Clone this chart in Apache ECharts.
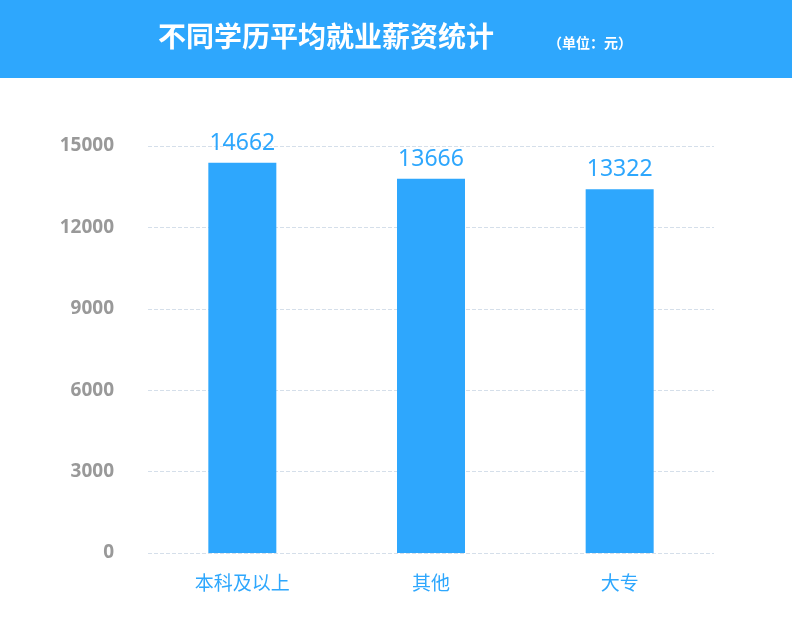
<!DOCTYPE html><html><head><meta charset="utf-8"><script src="https://cdn.jsdelivr.net/npm/echarts@6/dist/echarts.min.js"></script>
<style>body{margin:0}#c{width:792px;height:640px}</style></head><body><div id="c"></div><script>
const categories=['本科及以上','其他','大专'];
const barValues=[14380,13790,13410];
const labelTexts=['14662','13666','13322'];
const yTicks=[0,3000,6000,9000,12000,15000];
const ch=echarts.init(document.getElementById('c'));
ch.setOption({
 graphic:[{type:'rect',shape:{x:0,y:0,width:792,height:78},style:{fill:'#2ea7fd'}},
  {type:'text',left:158,top:22,style:{text:'不同学历平均就业薪资统计',fill:'#fff',font:'bold 28px "Noto Sans CJK SC"'}},
  {type:'text',left:548,top:36,style:{text:'（单位：元）',fill:'#fff',font:'bold 14px "Noto Sans CJK SC"'}}],
 grid:{left:148,right:78,top:146,bottom:87},
 xAxis:{type:'category',data:categories,axisLine:{show:false},axisTick:{show:false},
  axisLabel:{color:'#2ea7fd',fontSize:19,margin:20,fontFamily:'Noto Sans CJK SC'}},
 yAxis:{type:'value',min:0,max:15000,interval:3000,axisLine:{show:false},axisTick:{show:false},
  axisLabel:{color:'#999',fontSize:19,margin:34,fontWeight:'bold',fontFamily:'Noto Sans',formatter:v=>yTicks.includes(v)?String(v):''},
  splitLine:{lineStyle:{color:'#d5dfea',type:'dashed'}}},
 series:[{type:'bar',barWidth:68,data:barValues,itemStyle:{color:'#2ea7fd'},
  label:{show:true,position:'top',distance:8,color:'#2ea7fd',fontSize:23,fontFamily:'Noto Sans',formatter:p=>labelTexts[p.dataIndex]}}]
});
</script></body></html>
